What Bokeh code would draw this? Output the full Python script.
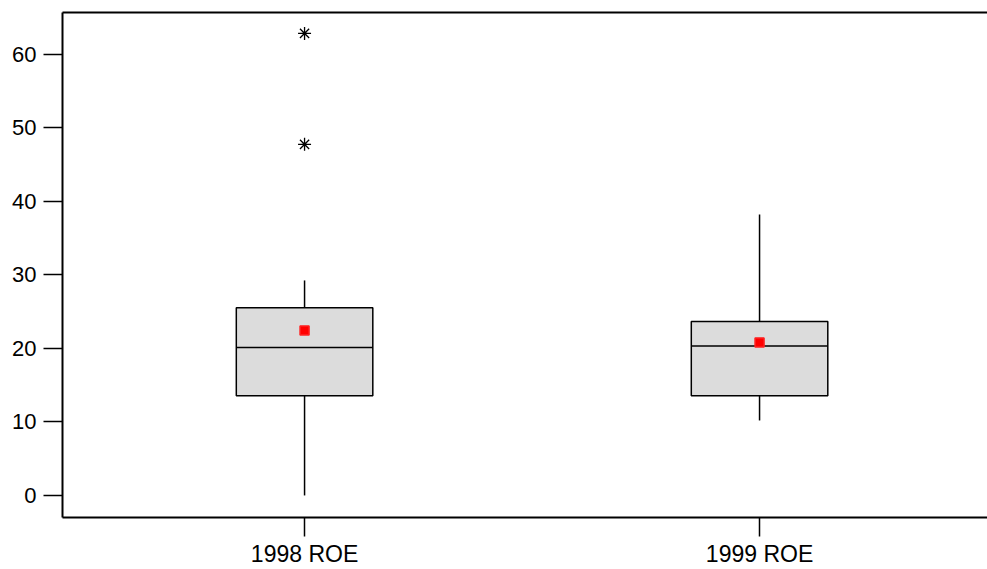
from bokeh.plotting import figure
from bokeh.models import ColumnDataSource, FixedTicker, LinearAxis, Range1d
from bokeh.embed import file_html
from bokeh.resources import INLINE

# ---- data ----
categories = ["1998 ROE", "1999 ROE"]
positions = [1, 2]
q1 = [13.56, 13.56]
median = [20.14, 20.34]
q3 = [25.54, 23.67]
lower_whisker = [0.0, 10.2]
upper_whisker = [29.25, 38.23]
means = [22.45, 20.82]
outlier_cat = [1, 1]
outlier_vals = [62.86, 47.76]

BOX_W = 0.30
FONT = "Liberation Sans"

p = figure(width=987, height=569, output_backend="svg", toolbar_location=None,
           x_range=Range1d(0.468, 2.501), y_range=Range1d(-3.0, 65.7),
           min_border_left=62, min_border_right=0, min_border_top=12, min_border_bottom=52,
           background_fill_color="white", border_fill_color="white")
p.outline_line_color = None
p.xgrid.visible = False
p.ygrid.visible = False

src = ColumnDataSource(dict(
    x=positions, q1=q1, q3=q3, med=median, lo=lower_whisker, hi=upper_whisker,
    mean=means,
    xl=[x - BOX_W / 2 for x in positions], xr=[x + BOX_W / 2 for x in positions],
))

# whiskers
p.segment(x0="x", y0="q3", x1="x", y1="hi", source=src, line_color="black", line_width=1.5)
p.segment(x0="x", y0="q1", x1="x", y1="lo", source=src, line_color="black", line_width=1.5)
# boxes
p.vbar(x="x", width=BOX_W, top="q3", bottom="q1", source=src,
       fill_color="#dcdcdc", line_color="black", line_width=1.5)
# medians
p.segment(x0="xl", y0="med", x1="xr", y1="med", source=src, line_color="black", line_width=1.5)
# means
p.scatter(x="x", y="mean", source=src, marker="square", size=9,
          fill_color="#ff0000", line_color="#ff2020", line_width=1.5)
# outliers
p.scatter(x=outlier_cat, y=outlier_vals, marker="asterisk", size=13,
          line_color="black", line_width=1.3)

# axes
for ax in (p.xaxis[0], p.yaxis[0]):
    ax.axis_line_width = 2
    ax.axis_line_color = "black"
    ax.major_tick_line_width = 1.5
    ax.major_tick_line_color = "black"
    ax.major_tick_in = 0
    ax.major_tick_out = 19
    ax.minor_tick_in = 0
    ax.minor_tick_out = 0
    ax.major_label_text_font = FONT
    ax.major_label_text_font_size = "22px"
    ax.major_label_text_color = "black"

p.xaxis.ticker = FixedTicker(ticks=positions)
p.xaxis.major_label_overrides = {pos: lab for pos, lab in zip(positions, categories)}
p.xaxis.major_label_standoff = 4
p.xaxis.major_label_text_font_size = "23px"
p.yaxis.ticker = FixedTicker(ticks=[0, 10, 20, 30, 40, 50, 60])
p.yaxis.major_label_standoff = 7

top = LinearAxis(ticker=FixedTicker(ticks=[]), axis_line_width=2, axis_line_color="black",
                 major_tick_out=0, major_tick_in=0, minor_tick_out=0, minor_tick_in=0,
                 major_label_text_font_size="0px", major_label_standoff=0)
p.add_layout(top, "above")

open("out.html", "w").write(file_html(p, INLINE))
